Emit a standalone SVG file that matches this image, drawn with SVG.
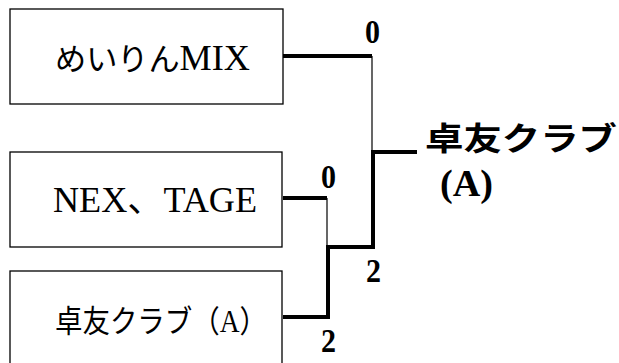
<svg xmlns="http://www.w3.org/2000/svg" width="619" height="363" viewBox="0 0 619 363">
<style>
.box{fill:#fff;stroke:#000;stroke-width:1.3}
.t{font-family:"Liberation Serif","Noto Sans CJK JP",serif;font-size:31px;fill:#000}
.lat{font-size:36px}
.n{font-family:"Liberation Serif","Noto Sans CJK JP",serif;font-size:33px;font-weight:bold;fill:#000}
.w{font-family:"Liberation Serif","Noto Sans CJK JP",serif;font-size:32px;font-weight:bold;fill:#000}
.wa{font-family:"Liberation Serif",serif;font-size:38px;font-weight:bold;fill:#000}
.thick{fill:none;stroke:#000;stroke-width:4}
.thin{fill:none;stroke:#000;stroke-width:1.2}
</style>
<rect width="619" height="363" fill="#fff"/>
<g id="node-meirin">
<rect class="box" x="10" y="9" width="273" height="95"/>
<text class="t" x="55" y="70" textLength="195" lengthAdjust="spacingAndGlyphs">めいりん<tspan class="lat">MIX</tspan></text>
</g>
<g id="node-nex">
<rect class="box" x="10" y="152" width="272" height="95"/>
<text class="t lat" x="53" y="212" textLength="204" lengthAdjust="spacingAndGlyphs">NEX、TAGE</text>
</g>
<g id="node-takuyu">
<rect class="box" x="10" y="271" width="272" height="100"/>
<text class="t" x="55" y="332" textLength="212" lengthAdjust="spacingAndGlyphs">卓友クラブ（A）</text>
</g>
<g id="connectors">
<polyline class="thick" points="283,56 372,56"/>
<line class="thin" x1="372" y1="56" x2="372" y2="152"/>
<polyline class="thick" points="328,247 373,247 373,152 417,152"/>
<polyline class="thick" points="283,198 327,198"/>
<line class="thin" x1="327" y1="198" x2="327" y2="247"/>
<polyline class="thick" points="283,317 328,317 328,245"/>
</g>
<g id="scores">
<text class="n" x="365" y="43" textLength="15" lengthAdjust="spacingAndGlyphs">0</text>
<text class="n" x="321" y="188" textLength="15" lengthAdjust="spacingAndGlyphs">0</text>
<text class="n" x="366" y="282" textLength="15" lengthAdjust="spacingAndGlyphs">2</text>
<text class="n" x="321" y="352" textLength="15" lengthAdjust="spacingAndGlyphs">2</text>
</g>
<g id="winner">
<text class="w" x="425" y="150" textLength="192" lengthAdjust="spacingAndGlyphs">卓友クラブ</text>
<text class="wa" x="440" y="196" textLength="53" lengthAdjust="spacingAndGlyphs">(A)</text>
</g>
</svg>
